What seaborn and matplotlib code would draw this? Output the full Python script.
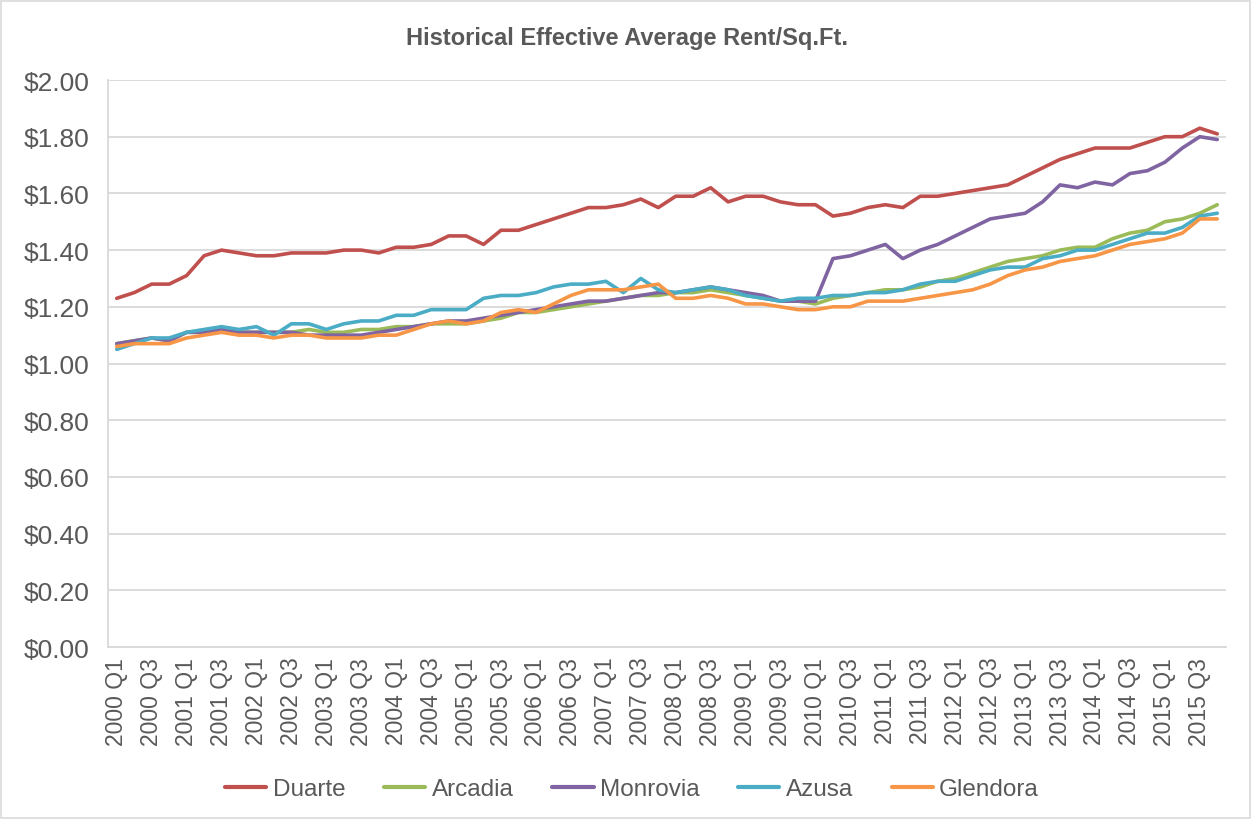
import numpy as np
import pandas as pd
import seaborn as sns
import matplotlib.pyplot as plt
from matplotlib.patches import Rectangle
from matplotlib.ticker import FuncFormatter

# quarters 2000 Q1 .. 2015 Q4
quarters = [f"{y} Q{q}" for y in range(2000, 2016) for q in range(1, 5)]

duarte = [1.23, 1.25, 1.28, 1.28, 1.31, 1.38, 1.40, 1.39,
          1.38, 1.38, 1.39, 1.39, 1.39, 1.40, 1.40, 1.39,
          1.41, 1.41, 1.42, 1.45, 1.45, 1.42, 1.47, 1.47,
          1.49, 1.51, 1.53, 1.55, 1.55, 1.56, 1.58, 1.55,
          1.59, 1.59, 1.62, 1.57, 1.59, 1.59, 1.57, 1.56,
          1.56, 1.52, 1.53, 1.55, 1.56, 1.55, 1.59, 1.59,
          1.60, 1.61, 1.62, 1.63, 1.66, 1.69, 1.72, 1.74,
          1.76, 1.76, 1.76, 1.78, 1.80, 1.80, 1.83, 1.81]
arcadia = [1.07, 1.08, 1.09, 1.08, 1.11, 1.11, 1.12, 1.11,
           1.11, 1.11, 1.11, 1.12, 1.11, 1.11, 1.12, 1.12,
           1.13, 1.13, 1.14, 1.14, 1.14, 1.15, 1.16, 1.18,
           1.18, 1.19, 1.20, 1.21, 1.22, 1.23, 1.24, 1.24,
           1.25, 1.25, 1.26, 1.25, 1.24, 1.23, 1.22, 1.22,
           1.21, 1.23, 1.24, 1.25, 1.26, 1.26, 1.27, 1.29,
           1.30, 1.32, 1.34, 1.36, 1.37, 1.38, 1.40, 1.41,
           1.41, 1.44, 1.46, 1.47, 1.50, 1.51, 1.53, 1.56]
monrovia = [1.07, 1.08, 1.09, 1.08, 1.11, 1.11, 1.12, 1.11,
            1.11, 1.11, 1.11, 1.10, 1.10, 1.10, 1.10, 1.11,
            1.12, 1.13, 1.14, 1.15, 1.15, 1.16, 1.17, 1.18,
            1.19, 1.20, 1.21, 1.22, 1.22, 1.23, 1.24, 1.25,
            1.25, 1.26, 1.27, 1.26, 1.25, 1.24, 1.22, 1.22,
            1.22, 1.37, 1.38, 1.40, 1.42, 1.37, 1.40, 1.42,
            1.45, 1.48, 1.51, 1.52, 1.53, 1.57, 1.63, 1.62,
            1.64, 1.63, 1.67, 1.68, 1.71, 1.76, 1.80, 1.79]
azusa = [1.05, 1.07, 1.09, 1.09, 1.11, 1.12, 1.13, 1.12,
         1.13, 1.10, 1.14, 1.14, 1.12, 1.14, 1.15, 1.15,
         1.17, 1.17, 1.19, 1.19, 1.19, 1.23, 1.24, 1.24,
         1.25, 1.27, 1.28, 1.28, 1.29, 1.25, 1.30, 1.26,
         1.25, 1.26, 1.27, 1.26, 1.24, 1.23, 1.22, 1.23,
         1.23, 1.24, 1.24, 1.25, 1.25, 1.26, 1.28, 1.29,
         1.29, 1.31, 1.33, 1.34, 1.34, 1.37, 1.38, 1.40,
         1.40, 1.42, 1.44, 1.46, 1.46, 1.48, 1.52, 1.53]
glendora = [1.06, 1.07, 1.07, 1.07, 1.09, 1.10, 1.11, 1.10,
            1.10, 1.09, 1.10, 1.10, 1.09, 1.09, 1.09, 1.10,
            1.10, 1.12, 1.14, 1.15, 1.14, 1.15, 1.18, 1.19,
            1.18, 1.21, 1.24, 1.26, 1.26, 1.26, 1.27, 1.28,
            1.23, 1.23, 1.24, 1.23, 1.21, 1.21, 1.20, 1.19,
            1.19, 1.20, 1.20, 1.22, 1.22, 1.22, 1.23, 1.24,
            1.25, 1.26, 1.28, 1.31, 1.33, 1.34, 1.36, 1.37,
            1.38, 1.40, 1.42, 1.43, 1.44, 1.46, 1.51, 1.51]

cities = ['Duarte', 'Arcadia', 'Monrovia', 'Azusa', 'Glendora']
colors = ['#C0504D', '#9BBB59', '#8064A2', '#4BACC6', '#F79646']

wide = pd.DataFrame({'Duarte': duarte, 'Arcadia': arcadia, 'Monrovia': monrovia,
                     'Azusa': azusa, 'Glendora': glendora})
wide['idx'] = np.arange(len(quarters))
data = wide.melt(id_vars='idx', var_name='city', value_name='rent')

sns.set_style('white')
plt.rcParams['font.family'] = ['Liberation Sans', 'DejaVu Sans']
grey = '#595959'

fig = plt.figure(figsize=(12.53, 8.2), dpi=100)
ax = fig.add_axes([108 / 1253, 1 - 648 / 820, (1226 - 108) / 1253, (648 - 81) / 820])

sns.lineplot(data=data, x='idx', y='rent', hue='city', hue_order=cities,
             palette=colors, linewidth=2.6, ax=ax, legend=False)

ax.set_xlim(-0.5, len(quarters) - 0.5)
ax.set_ylim(0, 2.0)
ax.set_yticks(np.arange(0, 2.01, 0.2))
ax.yaxis.set_major_formatter(FuncFormatter(lambda v, p: f"${v:.2f}"))
ax.set_xticks(np.arange(0, len(quarters), 2))
ax.set_xticklabels(quarters[::2], rotation=90)
ax.set_xlabel('')
ax.set_ylabel('')

ax.grid(axis='y', color='#D9D9D9', linewidth=1.3)
ax.grid(axis='x', visible=False)
ax.set_axisbelow(True)
for s in ['top', 'right']:
    ax.spines[s].set_visible(False)
for s in ['left', 'bottom']:
    ax.spines[s].set_color('#D9D9D9')
    ax.spines[s].set_linewidth(1.3)
ax.tick_params(axis='y', length=0, pad=13, labelsize=19, labelcolor=grey)
ax.tick_params(axis='x', length=0, pad=7, labelsize=16.5, labelcolor=grey)

fig.text(0.5, 1 - 38 / 820, 'Historical Effective Average Rent/Sq.Ft.',
         ha='center', va='center', fontsize=17, fontweight='bold', color=grey)

handles = [plt.Line2D([], [], color=c, linewidth=3) for c in colors]
fig.legend(handles, cities, loc='center', bbox_to_anchor=(632 / 1253, 1 - 790 / 820),
           ncol=5, frameon=False, fontsize=17.5, labelcolor=grey,
           handlelength=1.7, handletextpad=0.25, columnspacing=1.6)

fig.patches.append(Rectangle((0.001, 0.001), 0.997, 0.997, transform=fig.transFigure,
                             fill=False, edgecolor='#D9D9D9', linewidth=1.2))

fig.savefig('out.png', dpi=100)
